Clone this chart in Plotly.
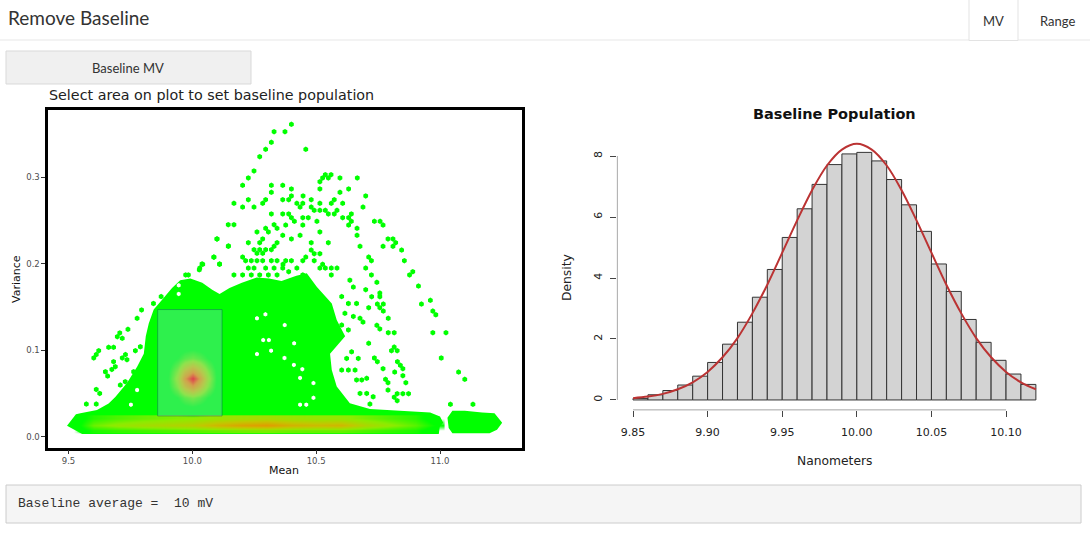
import plotly.graph_objects as go

# ---- left panel: hexbin of mean vs variance ----
# outline of the solid green region
dense_mean = [9.494, 9.530, 9.548, 9.615, 9.662, 9.689, 9.736, 9.777, 9.804, 9.812, 9.824, 9.844,
              9.877, 9.918, 9.951, 9.992, 10.04, 10.08, 10.11, 10.15, 10.20, 10.26, 10.31, 10.36,
              10.42, 10.462, 10.503, 10.563, 10.583, 10.617, 10.556, 10.563, 10.583, 10.636, 10.717,
              10.96, 11.0, 11.013, 10.999, 10.995, 9.555]
dense_var = [0.0127, 0.026, 0.027, 0.031, 0.0385, 0.046, 0.062, 0.081, 0.096, 0.116, 0.131, 0.147,
             0.158, 0.172, 0.181, 0.183, 0.178, 0.170, 0.165, 0.172, 0.178, 0.184, 0.183, 0.180,
             0.186, 0.189, 0.173, 0.154, 0.135, 0.116, 0.096, 0.077, 0.058, 0.0386, 0.032,
             0.028, 0.0234, 0.0162, 0.0116, 0.0031, 0.0031]
# small blob at the right end of the bottom band
blob_mean = [11.03, 11.05, 11.10, 11.17, 11.22, 11.251, 11.23, 11.20, 11.05, 11.035]
blob_var = [0.022, 0.030, 0.030, 0.028, 0.027, 0.0162, 0.008, 0.004, 0.004, 0.010]

# isolated hex cells
pts_mean = [
    10.330, 10.374, 10.319, 10.296, 10.272, 10.249, 10.226, 10.203, 10.319, 10.365, 10.319, 10.168,
    10.203, 10.226, 10.249, 10.284, 10.296, 10.365, 10.319, 10.365, 10.145, 10.168, 10.330, 10.296,
    10.261, 10.307, 10.342, 10.365, 10.100, 10.284, 10.272, 10.226, 10.342, 10.145, 10.249, 10.272,
    10.296, 10.319, 10.330, 10.261, 10.284, 10.087, 10.203, 10.110, 10.042, 10.030, 9.984, 10.168,
    10.215, 10.238, 10.261, 10.284, 10.319, 10.342, 10.226, 10.249, 10.296, 10.330, 10.365, 10.203,
    10.238, 10.272, 10.307, 10.342,
    10.400, 10.458, 10.537, 10.560, 10.526, 10.549, 10.515, 10.596, 10.666, 10.400, 10.515, 10.596,
    10.631, 10.389, 10.400, 10.447, 10.480, 10.700, 10.422, 10.446, 10.435, 10.515, 10.561, 10.573,
    10.607, 10.480, 10.689, 10.492, 10.515, 10.537, 10.584, 10.389, 10.549, 10.573, 10.642, 10.400,
    10.412, 10.446, 10.468, 10.607, 10.631, 10.503, 10.642, 10.735, 10.758, 10.770, 10.377, 10.446,
    10.631, 10.665, 10.515, 10.665, 10.435, 10.400, 10.790, 10.810, 10.821, 10.480, 10.549, 10.770,
    10.810, 10.677, 10.845, 10.480, 10.492, 10.515, 10.458, 10.712, 10.723, 10.856, 10.377, 10.400,
    10.492, 10.366, 10.446, 10.526, 10.515, 10.537, 10.561, 10.584, 10.700, 10.422, 10.389, 10.890,
    10.877, 10.723, 10.561, 10.446, 10.458,
    10.913, 10.961, 10.925, 10.971, 10.983, 10.971, 11.024, 11.005, 11.075, 11.100, 11.042, 11.133,
    10.745, 10.700, 10.724, 10.757, 10.757, 10.747, 10.771, 10.712, 10.757, 10.771, 10.791, 10.677,
    10.689, 10.745, 10.757, 10.791, 10.815, 10.712, 10.815, 10.804, 10.827, 10.735, 10.747, 10.770,
    10.828, 10.840, 10.817, 10.850, 10.850, 10.780, 10.790, 10.790, 10.862, 10.827, 10.815, 10.827,
    10.850, 10.873,
    10.636, 10.650, 10.603, 10.630, 10.663, 10.616, 10.650, 10.603, 10.630, 10.583, 10.643, 10.670,
    10.623, 10.603, 10.630, 10.657, 10.663, 10.684, 10.704, 10.677, 10.704, 10.730, 10.717,
    9.777, 9.740, 9.707, 9.697, 9.717, 9.662, 9.682, 9.622, 9.612, 9.602, 9.770, 9.790, 9.730, 9.736,
    9.717, 9.682, 9.689, 9.675, 9.649, 9.658, 9.763, 9.709, 9.729, 9.612, 9.626, 9.572, 9.612,
    9.795, 9.843, 9.874, 9.973, 10.039, 10.028, 10.087, 10.110, 10.099, 10.146,
]
pts_var = [
    0.3526, 0.3526, 0.3403, 0.3322, 0.3237, 0.3072, 0.2991, 0.2906, 0.2906, 0.2906, 0.2825, 0.2698,
    0.2655, 0.2740, 0.2655, 0.2698, 0.2740, 0.2740, 0.2575, 0.2575, 0.2451, 0.2451, 0.2451, 0.2409,
    0.2367, 0.2367, 0.2409, 0.2328, 0.2286, 0.2286, 0.2243, 0.2243, 0.2243, 0.2201, 0.2162, 0.2162,
    0.2162, 0.2162, 0.2201, 0.2120, 0.2120, 0.2077, 0.2077, 0.1993, 0.1993, 0.1950, 0.1870, 0.1870,
    0.2035, 0.2035, 0.2035, 0.2035, 0.2035, 0.2035, 0.1950, 0.1950, 0.1950, 0.1950, 0.1950, 0.1870,
    0.1870, 0.1870, 0.1870, 0.1870,
    0.3611, 0.3322, 0.3029, 0.3029, 0.2991, 0.2991, 0.2948, 0.2991, 0.2991, 0.2864, 0.2864, 0.2825,
    0.2864, 0.2740, 0.2783, 0.2783, 0.2740, 0.2783, 0.2698, 0.2698, 0.2655, 0.2698, 0.2698, 0.2740,
    0.2698, 0.2655, 0.2655, 0.2617, 0.2617, 0.2617, 0.2617, 0.2575, 0.2575, 0.2575, 0.2575, 0.2532,
    0.2490, 0.2532, 0.2532, 0.2532, 0.2532, 0.2490, 0.2490, 0.2490, 0.2490, 0.2447, 0.2447, 0.2447,
    0.2447, 0.2409, 0.2367, 0.2328, 0.2328, 0.2286, 0.2286, 0.2286, 0.2243, 0.2243, 0.2243, 0.2201,
    0.2201, 0.2201, 0.2158, 0.2158, 0.2116, 0.2116, 0.2077, 0.2077, 0.2035, 0.2035, 0.2035, 0.2035,
    0.2035, 0.1993, 0.2035, 0.1993, 0.1950, 0.1950, 0.1950, 0.1950, 0.1950, 0.1950, 0.1908, 0.1908,
    0.1870, 0.1870, 0.1870, 0.1870, 0.1830,
    0.1742, 0.1577, 0.1534, 0.1453, 0.1410, 0.1202, 0.1202, 0.0910, 0.0748, 0.0663, 0.0374, 0.0374,
    0.1785, 0.1700, 0.1619, 0.1619, 0.1660, 0.1534, 0.1534, 0.1491, 0.1491, 0.1453, 0.1369, 0.1369,
    0.1326, 0.1288, 0.1246, 0.1202, 0.1202, 0.1080, 0.1037, 0.0995, 0.0995, 0.0910, 0.0868, 0.0786,
    0.0868, 0.0826, 0.0748, 0.0786, 0.0705, 0.0663, 0.0625, 0.0539, 0.0625, 0.0497, 0.0457, 0.0416,
    0.0497, 0.0497,
    0.1810, 0.1730, 0.1620, 0.1540, 0.1540, 0.1427, 0.1390, 0.1291, 0.1234, 0.1118, 0.0982, 0.0905,
    0.0905, 0.0771, 0.0771, 0.0771, 0.0656, 0.0656, 0.0675, 0.0501, 0.0501, 0.0462, 0.0377,
    0.1369, 0.1241, 0.1200, 0.1156, 0.1137, 0.1033, 0.1033, 0.0995, 0.0949, 0.0911, 0.0995, 0.1040,
    0.0949, 0.0890, 0.0911, 0.0868, 0.0809, 0.0778, 0.0751, 0.0701, 0.0751, 0.0597, 0.0636, 0.0547,
    0.0501, 0.0377, 0.0377,
    0.1466, 0.1540, 0.1620, 0.1870, 0.1998, 0.1930, 0.2075, 0.1998, 0.2287, 0.2206,
]
# empty cells inside the solid region
hole_mean = [10.295, 10.261, 10.286, 10.309, 10.318, 10.261, 10.373, 9.777, 9.752, 10.411, 10.372,
             10.410, 10.444, 10.435, 10.489, 10.489, 10.435, 10.460, 9.945, 9.945]
hole_var = [0.1415, 0.1369, 0.1118, 0.1118, 0.0995, 0.0955, 0.1291, 0.0540, 0.0370, 0.1080, 0.0910,
            0.0830, 0.0780, 0.0680, 0.0620, 0.0450, 0.0370, 0.0370, 0.1650, 0.1750]

# count intensity along the bottom band (0 = green, 1 = red)
band_mean = [9.52, 9.60, 9.70, 9.80, 9.90, 10.00, 10.10, 10.20, 10.30, 10.40, 10.50, 10.60, 10.70,
             10.80, 10.90, 10.98]
band_var = [0.007, 0.0135, 0.021]
band_z = [
    [0, 0.12, 0.16, 0.18, 0.20, 0.22, 0.24, 0.26, 0.27, 0.25, 0.24, 0.24, 0.20, 0.16, 0.12, 0],
    [0, 0.25, 0.33, 0.38, 0.42, 0.46, 0.58, 0.66, 0.70, 0.60, 0.56, 0.58, 0.42, 0.32, 0.22, 0.08],
    [0, 0.14, 0.20, 0.24, 0.27, 0.30, 0.34, 0.36, 0.38, 0.34, 0.32, 0.32, 0.26, 0.20, 0.14, 0],
]
# hot spot of the baseline population
hot_mean = [9.90, 9.94, 9.97, 10.00, 10.03, 10.06, 10.10]
hot_var = [0.030, 0.045, 0.058, 0.067, 0.076, 0.090, 0.105]
hot_z = [
    [0, 0, 0.01, 0.02, 0.01, 0, 0],
    [0.02, 0.09, 0.19, 0.25, 0.19, 0.09, 0.02],
    [0.06, 0.28, 0.55, 0.72, 0.55, 0.28, 0.06],
    [0.07, 0.35, 0.74, 1.00, 0.74, 0.35, 0.07],
    [0.06, 0.28, 0.55, 0.72, 0.55, 0.28, 0.06],
    [0.02, 0.09, 0.18, 0.23, 0.18, 0.09, 0.02],
    [0, 0, 0.01, 0.02, 0.01, 0, 0],
]
brush_mean = [9.86, 10.12]
brush_var = [0.024, 0.147]

# ---- right panel: histogram of baseline population ----
bin_left = [9.85, 9.86, 9.87, 9.88, 9.89, 9.90, 9.91, 9.92, 9.93, 9.94, 9.95, 9.96, 9.97, 9.98,
            9.99, 10.00, 10.01, 10.02, 10.03, 10.04, 10.05, 10.06, 10.07, 10.08, 10.09, 10.10, 10.11]
density = [0.05, 0.17, 0.31, 0.49, 0.78, 1.23, 1.83, 2.55, 3.37, 4.28, 5.33, 6.27, 7.07, 7.72,
           8.07, 8.12, 7.84, 7.23, 6.40, 5.53, 4.46, 3.56, 2.64, 1.89, 1.30, 0.85, 0.51]
curve_x = [9.85, 9.86, 9.87, 9.88, 9.89, 9.90, 9.91, 9.92, 9.93, 9.94, 9.95, 9.96, 9.97, 9.98,
           9.99, 10.00, 10.01, 10.02, 10.03, 10.04, 10.05, 10.06, 10.07, 10.08, 10.09, 10.10,
           10.11, 10.12]
curve_y = [0.06, 0.11, 0.20, 0.35, 0.58, 0.92, 1.40, 2.03, 2.84, 3.78, 4.83, 5.89, 6.88, 7.69,
           8.21, 8.40, 8.21, 7.69, 6.88, 5.89, 4.83, 3.78, 2.84, 2.03, 1.40, 0.92, 0.58, 0.35]
hist_xticks = [9.85, 9.90, 9.95, 10.00, 10.05, 10.10]
hist_xlabels = ["9.85", "9.90", "9.95", "10.00", "10.05", "10.10"]
hist_yticks = [0, 2, 4, 6, 8]

W, H = 1090, 540


def fx(p):
    return p / W


def fy(p):
    return 1 - p / H


dens_scale = [[0, "rgba(0,255,0,0)"], [0.08, "rgba(0,255,0,1)"], [0.3, "rgb(140,236,0)"],
              [0.5, "rgb(196,198,0)"], [0.75, "rgb(235,143,0)"], [1, "rgb(255,0,0)"]]

fig = go.Figure()
fig.add_trace(go.Heatmap(x=band_mean, y=band_var, z=band_z, zsmooth="best", zmin=0, zmax=1,
                         colorscale=dens_scale, showscale=False, hoverinfo="skip"))
fig.add_trace(go.Heatmap(x=hot_mean, y=hot_var, z=hot_z, zsmooth="best", zmin=0, zmax=1,
                         colorscale=dens_scale, showscale=False, hoverinfo="skip"))
fig.add_trace(go.Scatter(x=pts_mean, y=pts_var, mode="markers", hoverinfo="skip",
                         marker=dict(symbol="hexagon", size=5.5, color="#00ff00")))
fig.add_trace(go.Scatter(x=hole_mean, y=hole_var, mode="markers", hoverinfo="skip",
                         marker=dict(symbol="hexagon", size=4.5, color="white")))

fig.add_trace(go.Bar(x=bin_left, y=density, width=0.01, offset=0, xaxis="x2", yaxis="y2",
                     marker=dict(color="#d3d3d3", line=dict(color="#333333", width=1))))
fig.add_trace(go.Scatter(x=curve_x, y=curve_y, mode="lines", xaxis="x2", yaxis="y2",
                         line=dict(color="#bb3333", width=2, shape="spline")))


def poly_path(xs, ys):
    return "M " + " L ".join("%s,%s" % (a, b) for a, b in zip(xs, ys)) + " Z"


shapes = [
    dict(type="path", xref="x", yref="y", path=poly_path(dense_mean, dense_var),
         fillcolor="#00ff00", line=dict(width=0), layer="below"),
    dict(type="path", xref="x", yref="y", path=poly_path(blob_mean, blob_var),
         fillcolor="#00ff00", line=dict(width=0), layer="below"),
    dict(type="rect", xref="x", yref="y", x0=brush_mean[0], x1=brush_mean[1],
         y0=brush_var[0], y1=brush_var[1], fillcolor="rgba(153,204,255,0.3)",
         line=dict(color="rgba(0,51,102,0.35)", width=1)),
    # R style axis lines for the histogram
    dict(type="line", xref="x2", yref="y2", x0=hist_xticks[0], x1=hist_xticks[-1],
         y0=-0.336, y1=-0.336, line=dict(color="#444", width=1)),
    dict(type="line", xref="x2", yref="y2", x0=9.8392, x1=9.8392,
         y0=hist_yticks[0], y1=hist_yticks[-1], line=dict(color="#444", width=1)),
    # page chrome
    dict(type="line", xref="paper", yref="paper", x0=0, x1=1, y0=fy(40), y1=fy(40),
         line=dict(color="#e7e7e7", width=1)),
    dict(type="rect", xref="paper", yref="paper", x0=fx(969), x1=fx(1018), y0=fy(40.5), y1=fy(-2),
         fillcolor="white", line=dict(color="#e3e3e3", width=1)),
    dict(type="rect", xref="paper", yref="paper", x0=fx(6), x1=fx(251), y0=fy(84), y1=fy(51),
         fillcolor="#f0f0f0", line=dict(color="#d9d9d9", width=1)),
    dict(type="rect", xref="paper", yref="paper", x0=fx(6), x1=fx(1081), y0=fy(523), y1=fy(485),
         fillcolor="#f5f5f5", line=dict(color="#cccccc", width=1)),
]

ui = "Lato"
annotations = [
    dict(text="Remove Baseline", x=fx(6), y=fy(18), xanchor="left", yanchor="middle",
         font=dict(family=ui, size=19, color="#333")),
    dict(text="MV", x=fx(993), y=fy(21), xanchor="center", yanchor="middle",
         font=dict(family=ui, size=13, color="#333")),
    dict(text="Range", x=fx(1057), y=fy(21), xanchor="center", yanchor="middle",
         font=dict(family=ui, size=13, color="#333")),
    dict(text="Baseline MV", x=fx(128), y=fy(67.5), xanchor="center", yanchor="middle",
         font=dict(family=ui, size=13, color="#333")),
    dict(text="Select area on plot to set baseline population", x=fx(47), y=fy(95),
         xanchor="left", yanchor="middle", font=dict(family="DejaVu Sans", size=14.3, color="#222")),
    dict(text="Baseline average = \u00a010 mV", x=fx(16), y=fy(503), xanchor="left",
         yanchor="middle", font=dict(family="Liberation Mono", size=13, color="#333")),
    dict(text="Mean", x=fx(284), y=fy(470), xanchor="center", yanchor="middle",
         font=dict(family="DejaVu Sans", size=11, color="#111")),
    dict(text="Variance", x=fx(16), y=fy(279), xanchor="center", yanchor="middle", textangle=-90,
         font=dict(family="DejaVu Sans", size=11, color="#111")),
    dict(text="<b>Baseline Population</b>", x=fx(834), y=fy(114), xanchor="center",
         yanchor="middle", font=dict(family="DejaVu Sans", size=14.5, color="#111")),
    dict(text="Nanometers", x=fx(834), y=fy(461), xanchor="center", yanchor="middle",
         font=dict(family="DejaVu Sans", size=12.3, color="#222")),
    dict(text="Density", x=fx(567), y=fy(277), xanchor="center", yanchor="middle", textangle=-90,
         font=dict(family="DejaVu Sans", size=12.3, color="#222")),
]
for a in annotations:
    a.update(xref="paper", yref="paper", showarrow=False)

fig.update_layout(
    width=W, height=H, margin=dict(l=0, r=0, t=0, b=0),
    paper_bgcolor="white", plot_bgcolor="white", showlegend=False,
    shapes=shapes, annotations=annotations,
    xaxis=dict(domain=[fx(47.7), fx(521.5)], range=[9.416, 11.329], showgrid=False, zeroline=False,
               showline=True, mirror=True, linecolor="black", linewidth=2.5,
               ticks="outside", ticklen=3.5, tickcolor="#333", tickwidth=1,
               tickvals=[9.5, 10.0, 10.5, 11.0], ticktext=["9.5", "10.0", "10.5", "11.0"],
               tickfont=dict(family="DejaVu Sans", size=8.5, color="#4d4d4d")),
    yaxis=dict(domain=[fy(447.7), fy(110)], range=[-0.0127, 0.3777], showgrid=False, zeroline=False,
               showline=True, mirror=True, linecolor="black", linewidth=2.5,
               ticks="outside", ticklen=3.5, tickcolor="#333", tickwidth=1,
               tickvals=[0, 0.1, 0.2, 0.3], ticktext=["0.0", "0.1", "0.2", "0.3"],
               tickfont=dict(family="DejaVu Sans", size=8.5, color="#4d4d4d")),
    xaxis2=dict(domain=[fx(616.9), fx(1052)], range=[9.8392, 10.1308], anchor="y2",
                showgrid=False, zeroline=False, showline=False,
                ticks="outside", ticklen=6, tickcolor="#444", tickvals=hist_xticks,
                ticktext=hist_xlabels, ticklabelstandoff=6,
                tickfont=dict(family="DejaVu Sans", size=11, color="#222")),
    yaxis2=dict(domain=[fy(410.2), fy(133.6)], range=[-0.336, 8.736], anchor="x2",
                showgrid=False, zeroline=False, showline=False,
                ticks="outside", ticklen=6, tickcolor="#444", tickvals=hist_yticks,
                tickangle=-90, ticklabelstandoff=4,
                tickfont=dict(family="DejaVu Sans", size=11, color="#222")),
)

fig.write_html("out.html", config={"displayModeBar": False},
               post_script="document.body.style.margin='0';document.body.style.overflow='hidden';")
